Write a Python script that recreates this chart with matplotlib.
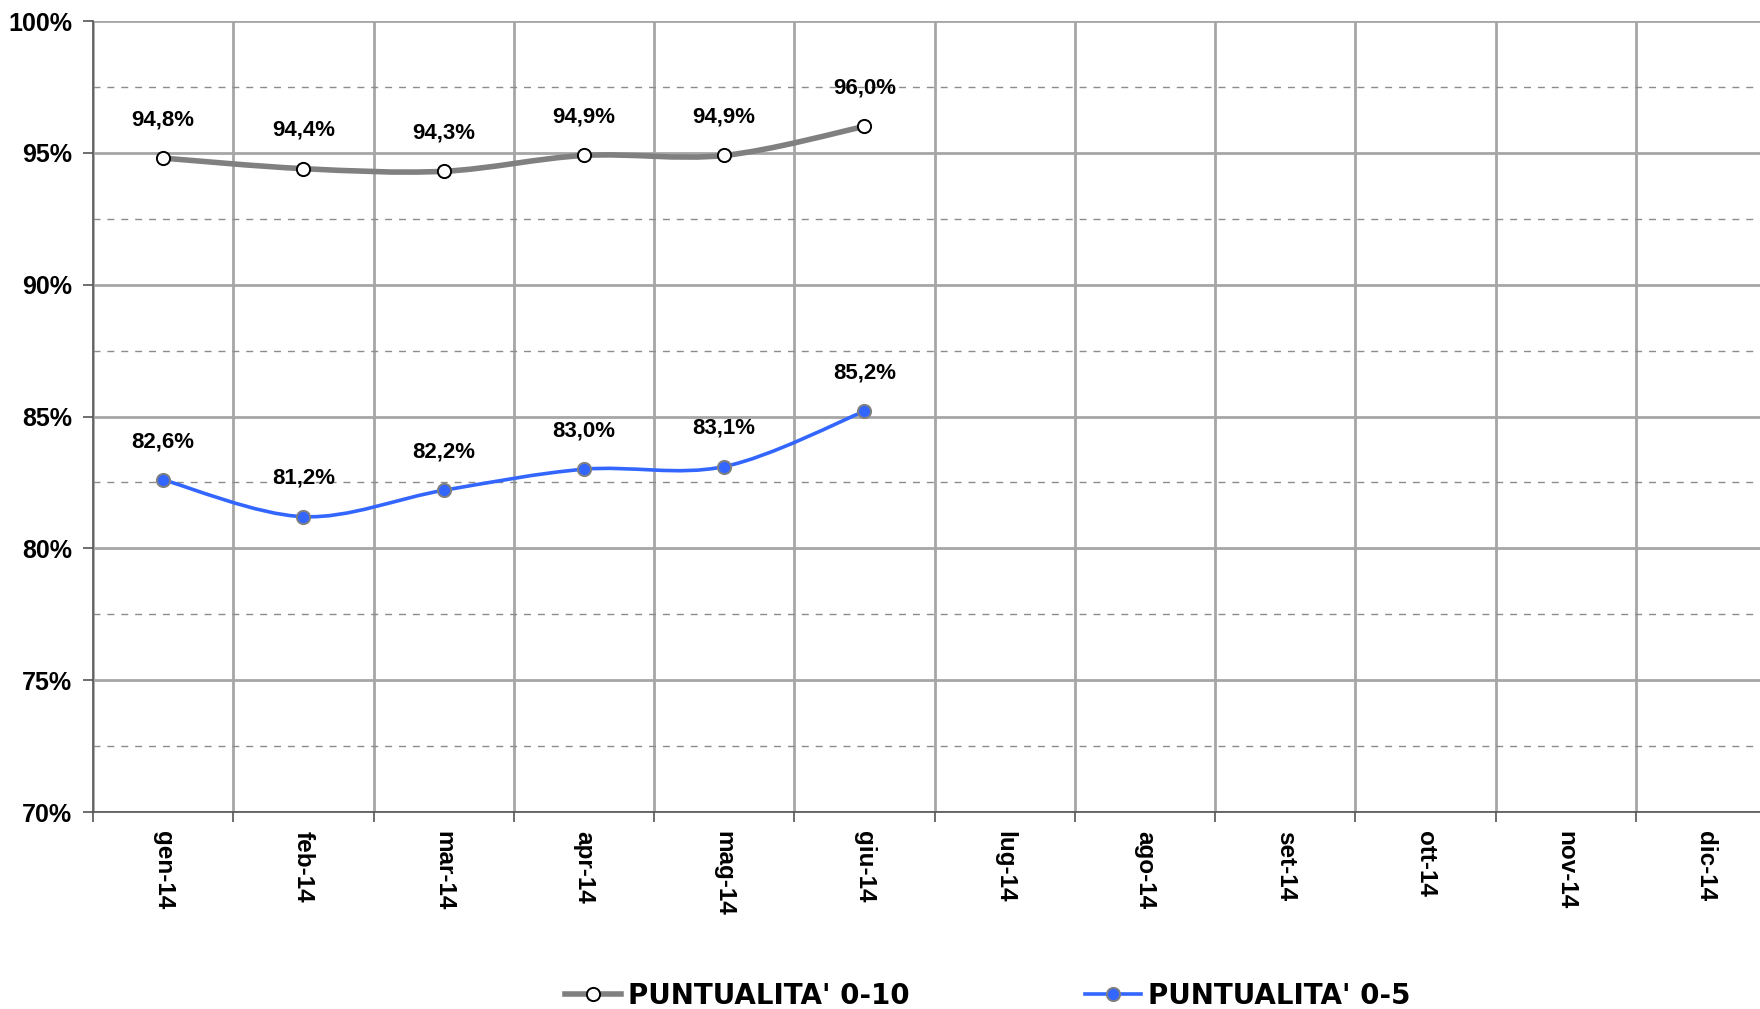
import matplotlib
matplotlib.use("Agg")
import matplotlib.pyplot as plt
from matplotlib.path import Path
from matplotlib.patches import PathPatch
from matplotlib.ticker import MultipleLocator, FuncFormatter, FixedLocator
from matplotlib.lines import Line2D
import numpy as np

months = ["gen-14", "feb-14", "mar-14", "apr-14", "mag-14", "giu-14",
          "lug-14", "ago-14", "set-14", "ott-14", "nov-14", "dic-14"]
punt_0_10 = [94.8, 94.4, 94.3, 94.9, 94.9, 96.0]
punt_0_5 = [82.6, 81.2, 82.2, 83.0, 83.1, 85.2]
series_names = ["PUNTUALITA' 0-10", "PUNTUALITA' 0-5"]

plt.rcParams['font.family'] = ['Liberation Sans', 'DejaVu Sans']
plt.rcParams['font.weight'] = 'bold'

W, H = 1760, 1009
fig = plt.figure(figsize=(W / 100, H / 100), dpi=100)
left, right, top, bottom = 93, 1776, 21, 812
ax = fig.add_axes([left / W, 1 - bottom / H, (right - left) / W, (bottom - top) / H])

ax.set_xlim(0, len(months))
ax.set_ylim(70, 100)

# grid
ax.xaxis.set_major_locator(FixedLocator(np.arange(0, len(months) + 1)))
ax.xaxis.set_minor_locator(FixedLocator(np.arange(len(months)) + 0.5))
ax.xaxis.set_major_formatter(FuncFormatter(lambda v, p: ""))
ax.set_xticklabels(months, minor=True)
ax.tick_params(axis='x', which='major', length=7, width=1.2, color='#555555', direction='out')
ax.tick_params(axis='x', which='minor', length=0, pad=14, labelsize=17.5, labelrotation=270)
for lab in ax.get_xticklabels(minor=True):
    lab.set_fontweight('bold')
    lab.set_va('top')

ax.yaxis.set_major_locator(MultipleLocator(5))
ax.yaxis.set_minor_locator(MultipleLocator(2.5))
ax.yaxis.set_major_formatter(FuncFormatter(lambda v, p: f"{v:.0f}%"))
ax.tick_params(axis='y', which='major', length=7, width=1.2, color='#555555', pad=8, labelsize=18)
ax.tick_params(axis='y', which='minor', length=0)
for lab in ax.get_yticklabels():
    lab.set_fontweight('bold')

ax.grid(True, which='major', axis='both', color='#A6A6A6', linewidth=2, zorder=0)
ax.grid(True, which='minor', axis='y', color='#8C8C8C', linewidth=1, linestyle=(0, (5, 5)), zorder=0)
ax.set_axisbelow(True)

for s in ['top', 'right']:
    ax.spines[s].set_visible(False)
for s in ['left', 'bottom']:
    ax.spines[s].set_color('#555555')
    ax.spines[s].set_linewidth(1.2)
    ax.spines[s].set_zorder(3)


def smooth_path(xs, ys):
    pts = np.column_stack([xs, ys])
    n = len(pts)
    verts = [pts[0]]
    codes = [Path.MOVETO]
    for i in range(n - 1):
        p0 = pts[i - 1] if i > 0 else pts[i]
        p1 = pts[i]
        p2 = pts[i + 1]
        p3 = pts[i + 2] if i + 2 < n else pts[i + 1]
        c1 = p1 + (p2 - p0) / 6.0
        c2 = p2 - (p3 - p1) / 6.0
        verts += [c1, c2, p2]
        codes += [Path.CURVE4] * 3
    return Path(verts, codes)


series = [
    (punt_0_10, '#808080', 4.0, 'white', '#000000'),
    (punt_0_5, '#3366FF', 2.6, '#3366FF', '#808080'),
]
handles = []
for vals, col, lw, mfc, mec in series:
    xs = np.arange(len(vals)) + 0.5
    patch = PathPatch(smooth_path(xs, np.array(vals, dtype=float)), fill=False,
                      edgecolor=col, linewidth=lw, capstyle='round', joinstyle='round', zorder=4)
    ax.add_patch(patch)
    ax.plot(xs, vals, linestyle='none', marker='o', markersize=9.5, markerfacecolor=mfc,
            markeredgecolor=mec, markeredgewidth=1.4, zorder=5, clip_on=False)
    for x, v in zip(xs, vals):
        ax.annotate(f"{v:.1f}%".replace('.', ','), (x, v), xytext=(0, 27.5), textcoords='offset points',
                    ha='center', va='center', fontsize=16, fontweight='bold', color='black', zorder=6)
    handles.append(Line2D([], [], color=col, linewidth=lw, marker='o', markersize=9.5,
                          markerfacecolor=mfc, markeredgecolor=mec, markeredgewidth=1.4))

legend_x = [565, 1085]
for h, name, lx in zip(handles, series_names, legend_x):
    fig.legend([h], [name], loc='center left', bbox_to_anchor=(lx / W, 1 - 996 / H),
               frameon=False, borderpad=0, borderaxespad=0, handlelength=2.0, handletextpad=0.25,
               prop={'family': 'DejaVu Sans', 'weight': 'bold', 'size': 20})

fig.savefig("out.png", dpi=100)
